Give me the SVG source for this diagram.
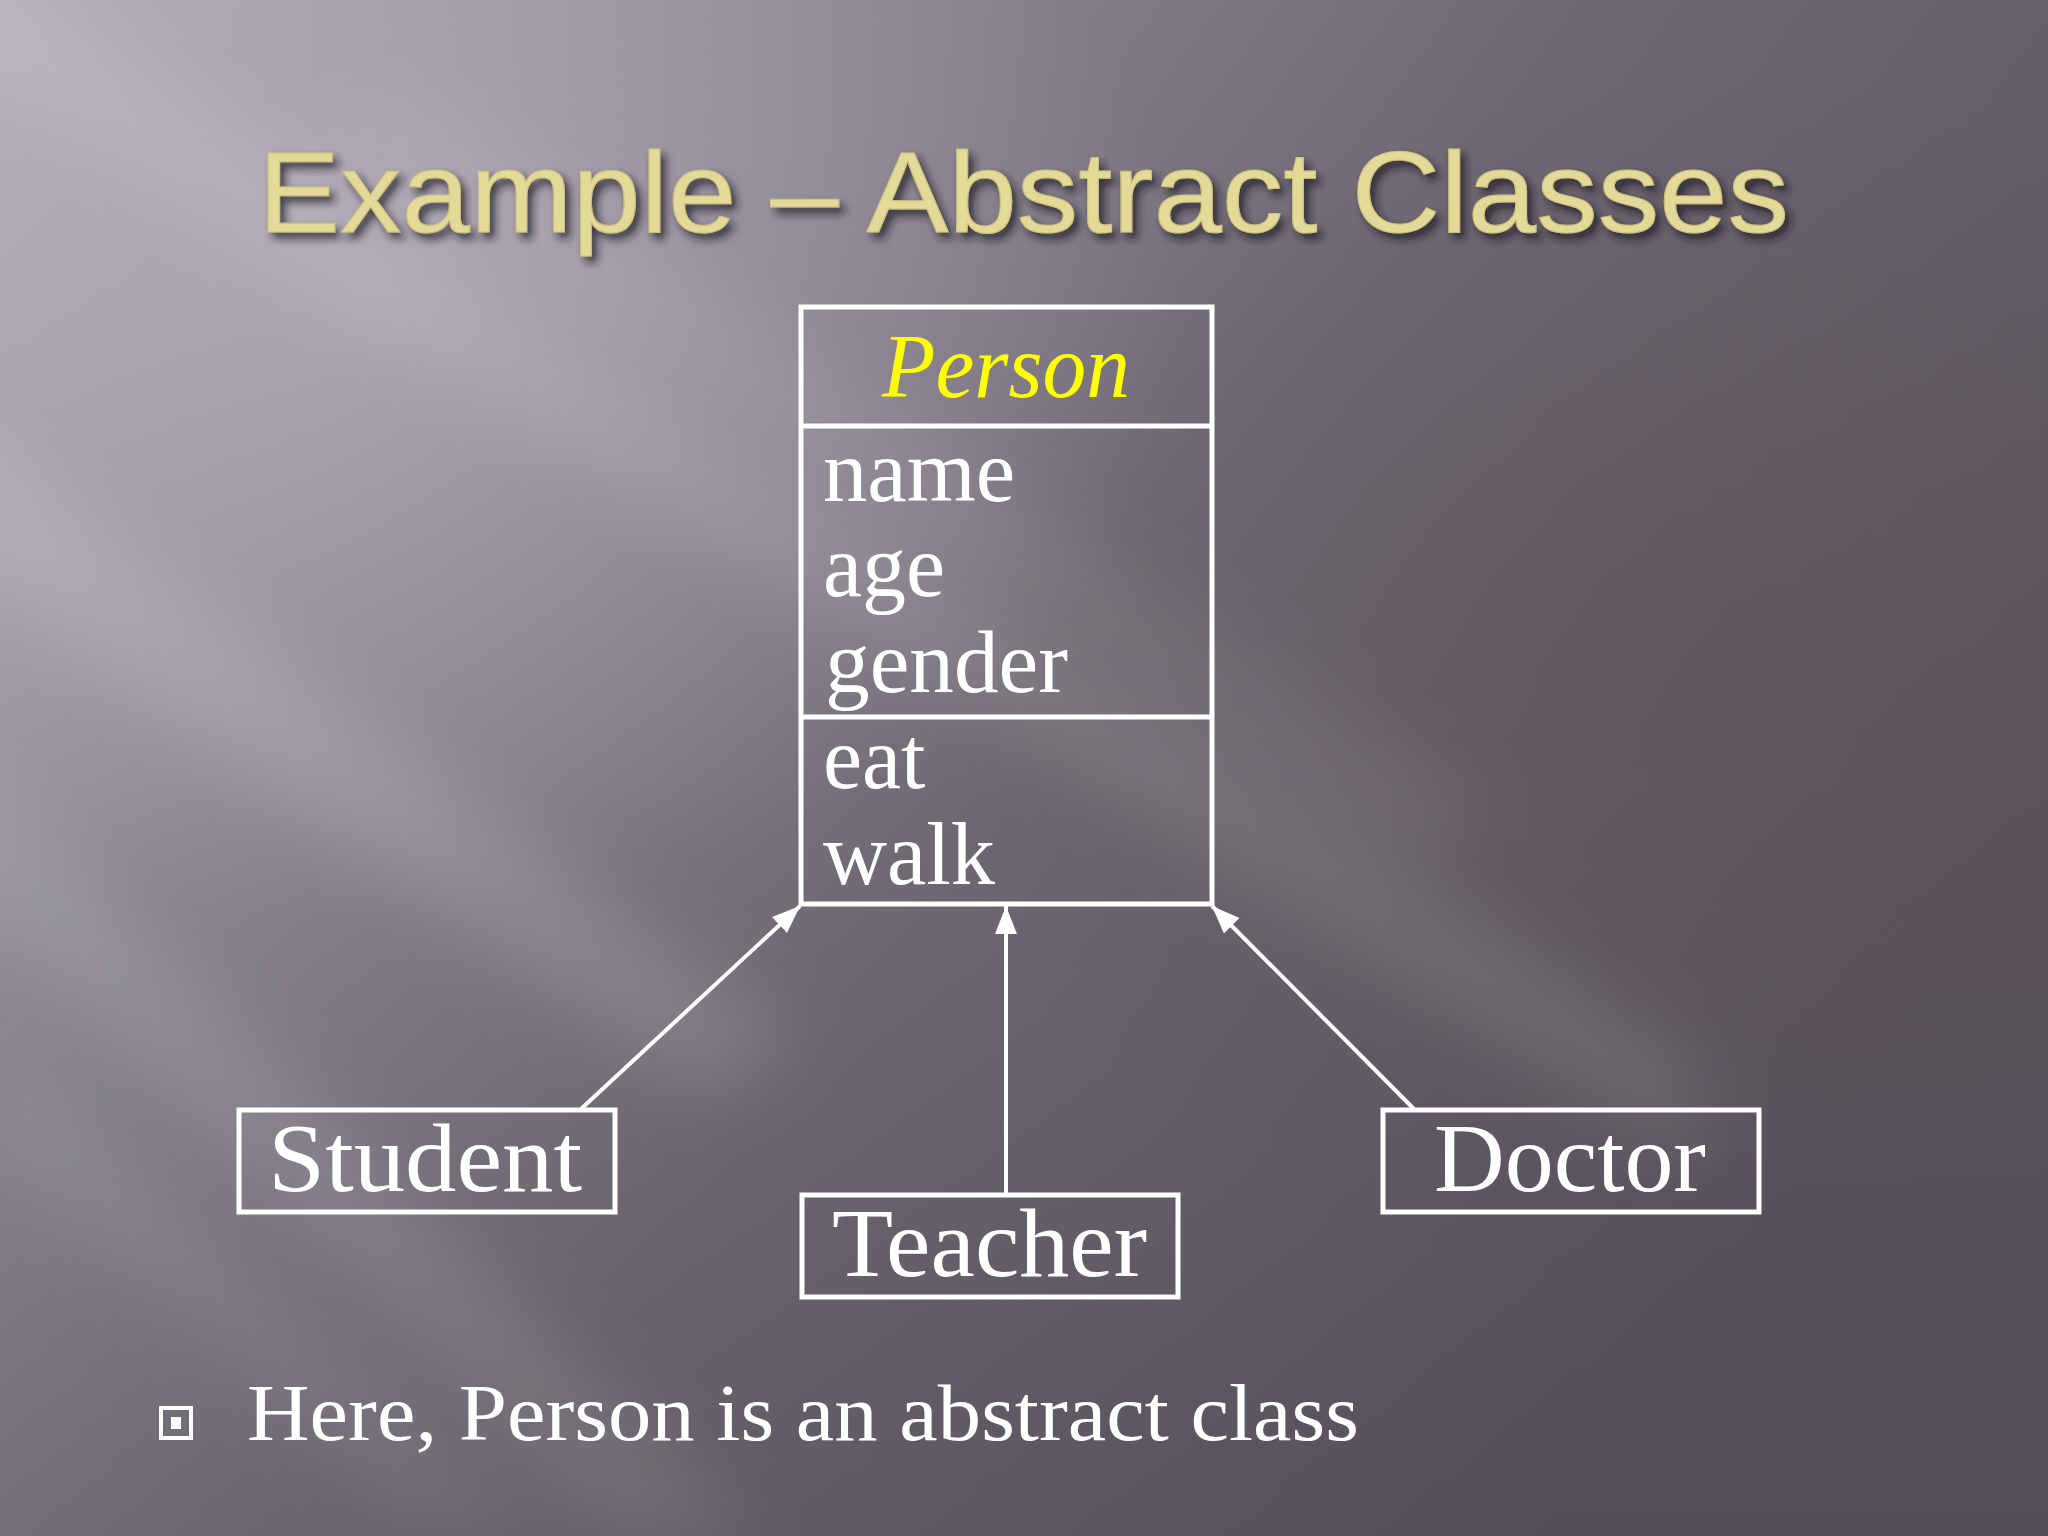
<svg xmlns="http://www.w3.org/2000/svg" width="2048" height="1536" viewBox="0 0 2048 1536">
<defs>
<linearGradient id="bg" x1="0" y1="0" x2="1" y2="0.55">
<stop offset="0" stop-color="#b0abb8"/>
<stop offset="0.3" stop-color="#8d8894"/>
<stop offset="0.6" stop-color="#6e6872"/>
<stop offset="1" stop-color="#5b545e"/>
</linearGradient>
<linearGradient id="dark" x1="0" y1="0" x2="0" y2="1">
<stop offset="0.5" stop-color="#3a3640" stop-opacity="0"/>
<stop offset="1" stop-color="#3a3640" stop-opacity="0.18"/>
</linearGradient>
<radialGradient id="glow" cx="0.18" cy="0.2" r="0.4">
<stop offset="0" stop-color="#c4bcc8" stop-opacity="0.45"/>
<stop offset="1" stop-color="#c4bcc8" stop-opacity="0"/>
</radialGradient>
<radialGradient id="tint" cx="0.85" cy="0.45" r="0.4">
<stop offset="0" stop-color="#5f4d58" stop-opacity="0.45"/>
<stop offset="1" stop-color="#5f4d58" stop-opacity="0"/>
</radialGradient>
<filter id="blur" x="-20%" y="-20%" width="140%" height="140%">
<feGaussianBlur stdDeviation="35"/>
</filter>
<filter id="shadow" x="-5%" y="-20%" width="110%" height="150%">
<feDropShadow dx="5" dy="6" stdDeviation="4" flood-color="#1e1a20" flood-opacity="0.75"/>
</filter>
<marker id="arrow" markerUnits="userSpaceOnUse" markerWidth="30" markerHeight="24" refX="28" refY="11" orient="auto">
<path d="M0,0 L28,11 L0,22 Z" fill="#ffffff"/>
</marker>
<style>
.box{fill:none;stroke:#ffffff;stroke-width:5}
.conn{stroke:#ffffff;stroke-width:4;fill:none}
.attr{font-family:"Liberation Serif","Times New Roman",serif;font-size:88px;fill:#ffffff}
.lbl{font-family:"Liberation Serif","Times New Roman",serif;font-size:98px;fill:#ffffff}
</style>
</defs>
<rect width="2048" height="1536" fill="url(#bg)"/>
<rect width="2048" height="1536" fill="url(#glow)"/>
<rect width="2048" height="1536" fill="url(#tint)"/>
<rect width="2048" height="1536" fill="url(#dark)"/>
<g filter="url(#blur)" fill="#ffffff">
<polygon points="-100,-90 -100,30 1700,1170 1700,1060" opacity="0.1"/>
<polygon points="-100,380 -100,520 700,1100 800,1040" opacity="0.12"/>
<polygon points="-100,700 -100,820 600,1536 760,1536" opacity="0.1"/>
<polygon points="300,120 420,100 1500,820 1400,860" opacity="0.07"/>
<polygon points="0,1050 0,1150 420,1536 560,1536" opacity="0.08"/>
</g>

<g id="title">
<text x="258" y="232" font-family="'Liberation Sans',Arial,sans-serif" font-size="115" fill="#e3d998" stroke="#cfc27a" stroke-width="1" textLength="1531" lengthAdjust="spacingAndGlyphs" filter="url(#shadow)">Example – Abstract Classes</text>
</g>

<g id="connectors">
<line class="conn" x1="581" y1="1109" x2="800" y2="906" marker-end="url(#arrow)"/>
<line class="conn" x1="1006" y1="1194" x2="1006" y2="906" marker-end="url(#arrow)"/>
<line class="conn" x1="1414" y1="1109" x2="1212" y2="906" marker-end="url(#arrow)"/>
</g>

<g id="person">
<rect class="box" x="801" y="307" width="411" height="597"/>
<line class="box" x1="801" y1="426" x2="1212" y2="426"/>
<line class="box" x1="801" y1="717" x2="1212" y2="717"/>
<text x="1006" y="397" text-anchor="middle" font-family="'Liberation Serif','Times New Roman',serif" font-style="italic" font-size="90" fill="#ffff00" textLength="248" lengthAdjust="spacingAndGlyphs">Person</text>
<text class="attr" x="823" y="501" textLength="192" lengthAdjust="spacingAndGlyphs">name</text>
<text class="attr" x="823" y="596">age</text>
<text class="attr" x="825" y="692" textLength="243" lengthAdjust="spacingAndGlyphs">gender</text>
<text class="attr" x="823" y="788">eat</text>
<text class="attr" x="823" y="884" textLength="172" lengthAdjust="spacingAndGlyphs">walk</text>
</g>

<g id="student">
<rect class="box" x="239" y="1110" width="376" height="102"/>
<text class="lbl" x="268" y="1191" textLength="314" lengthAdjust="spacingAndGlyphs">Student</text>
</g>

<g id="teacher">
<rect class="box" x="802" y="1195" width="376" height="102"/>
<text class="lbl" x="832" y="1276" textLength="315" lengthAdjust="spacingAndGlyphs">Teacher</text>
</g>

<g id="doctor">
<rect class="box" x="1383" y="1110" width="376" height="102"/>
<text class="lbl" x="1434" y="1191" textLength="272" lengthAdjust="spacingAndGlyphs">Doctor</text>
</g>

<g id="bullet">
<rect x="161" y="1408" width="30" height="30" fill="none" stroke="#ffffff" stroke-width="4"/>
<rect x="171" y="1417" width="10" height="12" fill="#ffffff"/>
<text x="247" y="1440" font-family="'Liberation Serif','Times New Roman',serif" font-size="80" fill="#ffffff" textLength="1112" lengthAdjust="spacingAndGlyphs">Here, Person is an abstract class</text>
</g>
</svg>
